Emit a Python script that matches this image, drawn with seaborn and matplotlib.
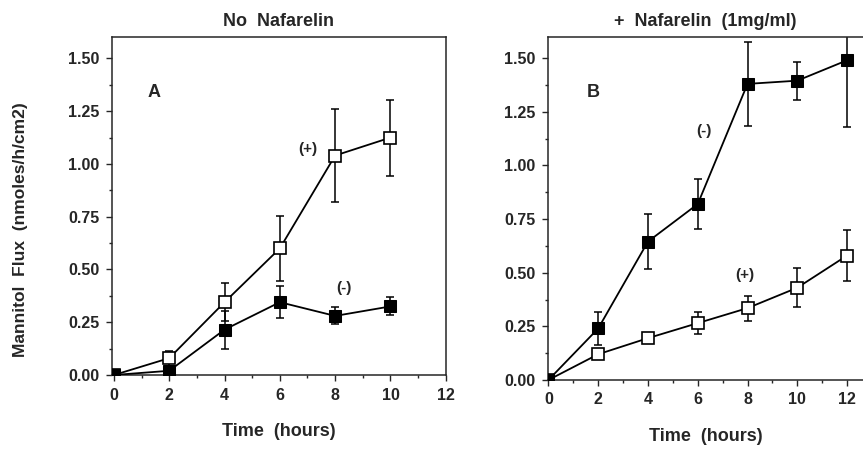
import numpy as np
import pandas as pd
import seaborn as sns
import matplotlib.pyplot as plt
from matplotlib.ticker import MultipleLocator, FormatStrFormatter

# Dados
tempo_a = [0, 2, 4, 6, 8, 10]
a_mais = [0, 0.08, 0.345, 0.60, 1.04, 1.125]
a_mais_err = [0, 0.035, 0.09, 0.155, 0.22, 0.18]
a_menos = [0, 0.02, 0.215, 0.345, 0.28, 0.325]
a_menos_err = [0, 0.01, 0.09, 0.075, 0.04, 0.043]

tempo_b = [0, 2, 4, 6, 8, 10, 12]
b_menos = [0, 0.24, 0.645, 0.82, 1.38, 1.395, 1.49]
b_menos_err = [0, 0.075, 0.13, 0.115, 0.195, 0.088, 0.31]
b_mais = [0, 0.12, 0.195, 0.265, 0.335, 0.43, 0.58]
b_mais_err = [0, 0.02, 0.015, 0.052, 0.058, 0.09, 0.117]

sns.set_style('ticks')
plt.rcParams['font.family'] = ['Liberation Sans', 'DejaVu Sans']
plt.rcParams['font.weight'] = 'bold'

fig = plt.figure(figsize=(8.63, 4.49), dpi=100)
ax1 = fig.add_axes([0.1298, 0.1648, 0.3867, 0.752])
ax2 = fig.add_axes([0.6346, 0.1537, 0.3654, 0.7646])


def painel(ax, t, cheio, cheio_err, vazio, vazio_err):
    df_c = pd.DataFrame({'t': t, 'y': cheio})
    df_v = pd.DataFrame({'t': t, 'y': vazio})
    # barras de erro por baixo
    ax.errorbar(t, cheio, yerr=cheio_err, fmt='none', ecolor='black',
                elinewidth=1.1, capsize=3, capthick=1.1, zorder=1)
    ax.errorbar(t, vazio, yerr=vazio_err, fmt='none', ecolor='black',
                elinewidth=1.1, capsize=3, capthick=1.1, zorder=1)
    sns.lineplot(data=df_v, x='t', y='y', ax=ax, color='black', lw=1.3,
                 marker='s', markersize=8.5, markerfacecolor='white',
                 markeredgecolor='black', markeredgewidth=1.2, zorder=3)
    sns.lineplot(data=df_c, x='t', y='y', ax=ax, color='black', lw=1.3,
                 marker='s', markersize=8.5, markerfacecolor='black',
                 markeredgecolor='black', zorder=4)
    ax.set_ylim(0, 1.6)
    ax.yaxis.set_major_locator(MultipleLocator(0.25))
    ax.yaxis.set_minor_locator(MultipleLocator(0.125))
    ax.yaxis.set_major_formatter(FormatStrFormatter('%.2f'))
    ax.xaxis.set_major_locator(MultipleLocator(2))
    ax.xaxis.set_minor_locator(MultipleLocator(1))
    ax.tick_params(which='major', direction='out', length=4, width=1,
                   labelsize=11.5, pad=5)
    ax.tick_params(which='minor', direction='out', length=2.5, width=1)
    for s in ax.spines.values():
        s.set_linewidth(1.1)
    for lab in ax.get_xticklabels() + ax.get_yticklabels():
        lab.set_fontweight('bold')
    ax.set_xlabel('Time  (hours)', fontsize=13, fontweight='bold', labelpad=15)
    ax.set_ylabel('')


painel(ax1, tempo_a, a_menos, a_menos_err, a_mais, a_mais_err)
ax1.set_xlim(-0.07, 12)
ax1.set_xticks(range(0, 13, 2))
ax1.set_ylabel('Mannitol  Flux  (nmoles/h/cm2)', fontsize=12.5,
               fontweight='bold')
ax1.yaxis.set_label_coords(-0.252, 0.43)
ax1.set_title('No  Nafarelin', fontsize=13, fontweight='bold', pad=8)
ax1.text(1.45, 1.34, 'A', fontsize=13, fontweight='bold', ha='center', va='center')
ax1.text(7.0, 1.07, '(+)', fontsize=11, ha='center', va='center')
ax1.text(8.3, 0.41, '(-)', fontsize=11, ha='center', va='center')

painel(ax2, tempo_b, b_menos, b_menos_err, b_mais, b_mais_err)
ax2.set_xlim(-0.03, 12.64)
ax2.set_xticks(range(0, 13, 2))
ax2.spines['right'].set_visible(False)
ax2.set_title('+  Nafarelin  (1mg/ml)', fontsize=13, fontweight='bold', pad=8)
ax2.text(1.8, 1.34, 'B', fontsize=13, fontweight='bold', ha='center', va='center')
ax2.text(6.25, 1.16, '(-)', fontsize=11, ha='center', va='center')
ax2.text(7.9, 0.49, '(+)', fontsize=11, ha='center', va='center')

fig.savefig('out.png', dpi=100)
